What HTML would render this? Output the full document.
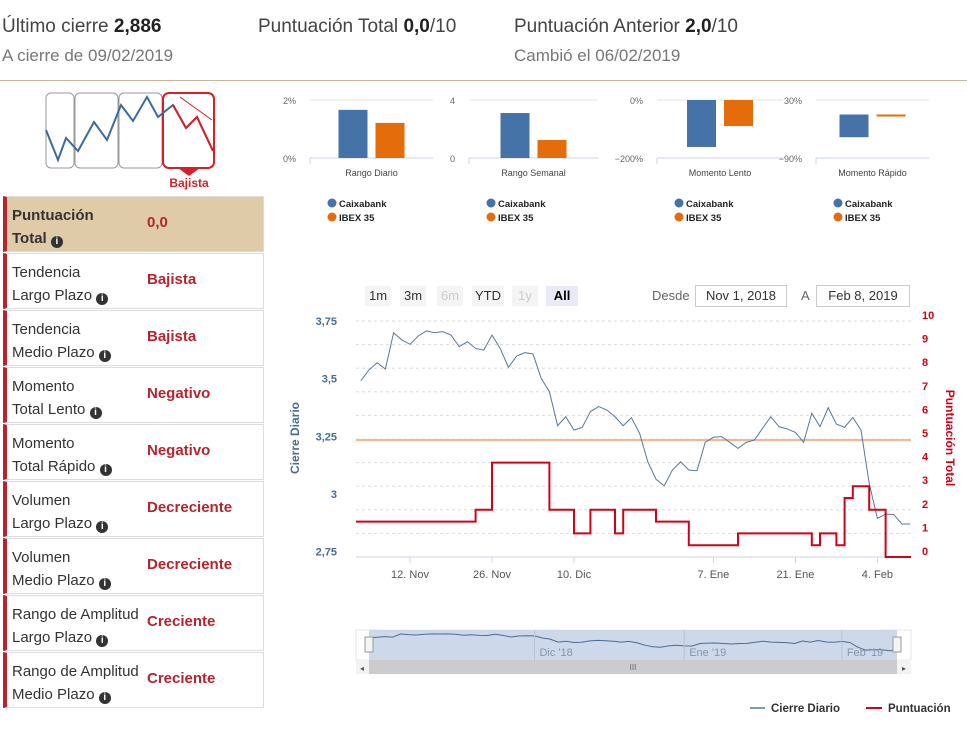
<!DOCTYPE html>
<html><head><meta charset="utf-8">
<style>
body{margin:0;width:967px;height:738px;background:#fff;font-family:"Liberation Sans",sans-serif;position:relative;overflow:hidden;color:#444}
.abs{position:absolute}
.h1{font-size:19px;color:#444;white-space:nowrap}
.h1 b{color:#222}
.h2{font-size:17px;color:#777;white-space:nowrap}
.row{position:absolute;left:3px;width:261px;height:56px;border:1px solid #ddd;border-left:4px solid #b5242f;box-sizing:border-box;background:#fff}
.row .l{position:absolute;left:5px;top:7px;font-size:15px;line-height:23px;color:#333}
.row .v{position:absolute;left:140px;top:17px;font-size:15px;font-weight:bold;color:#b5242f}
.ic{display:inline-block;width:12px;height:12px;border-radius:50%;background:#333;color:#fff;font-size:10px;line-height:12px;text-align:center;font-weight:bold;vertical-align:-1px}
.btn{position:absolute;top:286px;height:20px;font-size:13px;line-height:20px;text-align:center;background:#f4f4f4;color:#333}
</style></head><body>
<div class="abs h1" style="left:2px;top:16px">Último cierre <b>2,886</b></div>
<div class="abs h2" style="left:2px;top:46px">A cierre de 09/02/2019</div>
<div class="abs h1" style="left:258px;top:16px">Puntuación Total <b>0,0</b>/10</div>
<div class="abs h1" style="left:514px;top:16px">Puntuación Anterior <b>2,0</b>/10</div>
<div class="abs h2" style="left:514px;top:46px">Cambió el 06/02/2019</div>
<div class="abs" style="left:0;top:80px;width:967px;height:1px;background:#c9b99b"></div>

<svg class="abs" style="left:40px;top:88px" width="180" height="105">
<rect x="6" y="5" width="28" height="75" rx="5" fill="none" stroke="#999"/>
<rect x="35" y="5" width="43" height="75" rx="5" fill="none" stroke="#999"/>
<rect x="79" y="5" width="43" height="75" rx="5" fill="none" stroke="#999"/>
<rect x="123" y="5" width="51" height="75" rx="6" fill="none" stroke="#d61f26" stroke-width="2"/>
<polyline points="6,42 18,72 26,50 38,63 54,34 67,52 81,17 93,33 107,9 118,29 133,17 146,40 157,29 173,63" fill="none" stroke="#3d6a9e" stroke-width="2"/>
<polyline points="133,17 146,40 157,29 173,63" fill="none" stroke="#d61f26" stroke-width="2"/>
<line x1="140" y1="9" x2="172" y2="32" stroke="#d61f26"/>
<polygon points="138,80 160,80 149,88" fill="#d61f26"/>
<text x="149" y="99" text-anchor="middle" font-size="12" font-weight="bold" fill="#d61f26" font-family="Liberation Sans">Bajista</text>
</svg>

<div class="row" style="top:196px;background:#dfcba7"><div class="l" style="font-weight:bold">Puntuación<br>Total <span class="ic">i</span></div><div class="v" style="font-weight:bold">0,0</div></div>
<div class="row" style="top:253px"><div class="l">Tendencia<br>Largo Plazo <span class="ic">i</span></div><div class="v">Bajista</div></div>
<div class="row" style="top:310px"><div class="l">Tendencia<br>Medio Plazo <span class="ic">i</span></div><div class="v">Bajista</div></div>
<div class="row" style="top:367px"><div class="l">Momento<br>Total Lento <span class="ic">i</span></div><div class="v">Negativo</div></div>
<div class="row" style="top:424px"><div class="l">Momento<br>Total Rápido <span class="ic">i</span></div><div class="v">Negativo</div></div>
<div class="row" style="top:481px"><div class="l">Volumen<br>Largo Plazo <span class="ic">i</span></div><div class="v">Decreciente</div></div>
<div class="row" style="top:538px"><div class="l">Volumen<br>Medio Plazo <span class="ic">i</span></div><div class="v">Decreciente</div></div>
<div class="row" style="top:595px"><div class="l">Rango de Amplitud<br>Largo Plazo <span class="ic">i</span></div><div class="v">Creciente</div></div>
<div class="row" style="top:652px"><div class="l">Rango de Amplitud<br>Medio Plazo <span class="ic">i</span></div><div class="v">Creciente</div></div>

<svg id="mini" class="abs" style="left:0;top:0" width="967" height="240"></svg>

<div class="btn" style="left:365px;width:26px">1m</div>
<div class="btn" style="left:400px;width:26px">3m</div>
<div class="btn" style="left:437px;width:26px;color:#ccc">6m</div>
<div class="btn" style="left:472px;width:32px">YTD</div>
<div class="btn" style="left:512px;width:26px;color:#ccc">1y</div>
<div class="btn" style="left:546px;width:32px;background:#e6ebf5;font-weight:bold;color:#000">All</div>
<div class="abs" style="left:652px;top:288px;font-size:13px;color:#666">Desde</div>
<div class="abs" style="left:695px;top:285px;width:92px;height:22px;border:1px solid #ccc;box-sizing:border-box;font-size:13px;line-height:20px;text-align:center;color:#333">Nov 1, 2018</div>
<div class="abs" style="left:801px;top:288px;font-size:13px;color:#666">A</div>
<div class="abs" style="left:816px;top:285px;width:94px;height:22px;border:1px solid #ccc;box-sizing:border-box;font-size:13px;line-height:20px;text-align:center;color:#333">Feb 8, 2019</div>

<svg id="main" class="abs" style="left:0;top:0" width="967" height="738"></svg>

<script>
// ---- mini bar charts data ----
const miniTitles=["Rango Diario","Rango Semanal","Momento Lento","Momento Rápido"];
const miniCaixa=[1.66,3.1,-162,-47];
const miniIbex=[1.21,1.24,-90,-1];
const miniMax=[2,4,0,30];
const miniMin=[0,0,-200,-90];
const miniTopLabels=["2%","4","0%","30%"];
const miniBottomLabels=["0%","0","−200%","−90%"];
// ---- main chart data ----
const closes=[3.491,3.538,3.569,3.542,3.699,3.668,3.649,3.685,3.707,3.699,3.704,3.689,3.639,3.660,3.631,3.624,3.689,3.631,3.549,3.598,3.613,3.607,3.501,3.444,3.296,3.335,3.277,3.289,3.357,3.379,3.364,3.335,3.296,3.331,3.263,3.140,3.064,3.036,3.104,3.140,3.104,3.101,3.224,3.246,3.249,3.224,3.198,3.224,3.234,3.285,3.335,3.292,3.282,3.267,3.224,3.350,3.292,3.374,3.303,3.289,3.332,3.277,3.046,2.894,2.913,2.911,2.870,2.870];
const scores=[1.5,1.5,1.5,1.5,1.5,1.5,1.5,1.5,1.5,1.5,1.5,1.5,1.5,1.5,2,2,4,4,4,4,4,4,4,2,2,2,1,1,2,2,2,1,2,2,2,2,1.5,1.5,1.5,1.5,0.5,0.5,0.5,0.5,0.5,0.5,1,1,1,1,1,1,1,1,1,0.5,1,1,0.5,2.5,3,3,2,2,0,0,0,0];
const refLevel=3.234;
const xTickIdx=[6,16,26,43,53,63];
const xTickLabels=["12. Nov","26. Nov","10. Dic","7. Ene","21. Ene","4. Feb"];
const leftTicks=[3.75,3.5,3.25,3,2.75];
const leftTickLabels=["3,75","3,5","3,25","3","2,75"];
const rightTicks=[0,1,2,3,4,5,6,7,8,9,10];
const navTicks=["Dic '18","Ene '19","Feb '19"];

const NS="http://www.w3.org/2000/svg";
function mk(parent,tag,attrs,name,text){const e=document.createElementNS(NS,tag);for(const k in attrs)e.setAttribute(k,attrs[k]);


if(text!==undefined)e.textContent=text;parent.appendChild(e);return e;}

// mini charts
const mini=document.getElementById('mini');
const panelX=[310,469,657,816], panelW=[123,129,126,113];
const mTop=100,mBot=158;
for(let p=0;p<4;p++){
  const x0=panelX[p],w=panelW[p];
  const ys=v=>mTop+(miniMax[p]-v)/(miniMax[p]-miniMin[p])*(mBot-mTop);
  mk(mini,'line',{x1:x0,x2:x0+w,y1:mTop,y2:mTop,stroke:'#e4e4e4'},'mini-gridline');
  mk(mini,'line',{x1:x0,x2:x0+w,y1:mBot,y2:mBot,stroke:'#ccd6eb'},'mini-x-axis');
  mk(mini,'line',{x1:x0,x2:x0,y1:mBot,y2:mBot+6,stroke:'#ccd6eb'},'mini-tick');
  mk(mini,'text',{x:x0-14,y:mTop+4,'text-anchor':'end','font-size':9,fill:'#666','font-family':'Liberation Sans'},'mini-y-top-label',miniTopLabels[p]);
  mk(mini,'text',{x:x0-14,y:mBot+4,'text-anchor':'end','font-size':9,fill:'#666','font-family':'Liberation Sans'},'mini-y-bottom-label',miniBottomLabels[p]);
  const z=ys(Math.max(miniMin[p],Math.min(miniMax[p],0)));
  const bw=29, c=x0+w/2;
  const b1=ys(miniCaixa[p]), b2=ys(miniIbex[p]);
  mk(mini,'rect',{x:c-bw-4,y:Math.min(z,b1),width:bw,height:Math.max(1,Math.abs(z-b1)),fill:'#4572a7'},'bar-caixabank-'+p);
  mk(mini,'rect',{x:c+4,y:Math.min(z,b2),width:bw,height:Math.max(2,Math.abs(z-b2)),fill:'#e46c0a'},'bar-ibex-'+p);
  mk(mini,'text',{x:c,y:176,'text-anchor':'middle','font-size':9,fill:'#444','font-family':'Liberation Sans'},'mini-category-label',miniTitles[p]);
  const lx=x0+22;
  mk(mini,'circle',{cx:lx,cy:203,r:4.5,fill:'#4572a7'},'legend-caixabank-marker');
  mk(mini,'text',{x:lx+7,y:207,'font-size':9.5,'font-weight':'bold',fill:'#222','font-family':'Liberation Sans'},'legend-caixabank','Caixabank');
  mk(mini,'circle',{cx:lx,cy:217,r:4.5,fill:'#e46c0a'},'legend-ibex-marker');
  mk(mini,'text',{x:lx+7,y:221,'font-size':9.5,'font-weight':'bold',fill:'#222','font-family':'Liberation Sans'},'legend-ibex','IBEX 35');
}

// main chart
const svg=document.getElementById('main');
const PL=356,PR=911,PT=321,PB=557;
const xs=i=>410+(i-6)*8.2;
const yl=v=>PT+(3.75-v)*(PB-PT)/1.023;
const yr=v=>PB-v*(PB-PT)/10;
for(let k=0;k<=10;k++){const y=PT+k*(PB-PT)/10;
  mk(svg,'line',{x1:PL,x2:PR,y1:y,y2:y,stroke:'#ddd','stroke-dasharray':'3,3'},'gridline');}
mk(svg,'line',{x1:PL,x2:PR,y1:PB,y2:PB,stroke:'#ccd6eb'},'x-axis-line');
leftTicks.forEach((t,k)=>mk(svg,'text',{x:337,y:yl(t)+4,'text-anchor':'end','font-size':11,'font-weight':'bold',fill:'#4a6c93','font-family':'Liberation Sans'},'y-left-tick',leftTickLabels[k]));
rightTicks.forEach(t=>mk(svg,'text',{x:922,y:yr(t)-2,'font-size':11,'font-weight':'bold',fill:'#d0021b','font-family':'Liberation Sans'},'y-right-tick',String(t)));
xTickIdx.forEach((i,k)=>{mk(svg,'line',{x1:xs(i),x2:xs(i),y1:PB,y2:PB+6,stroke:'#ccd6eb'},'x-tick');
  mk(svg,'text',{x:xs(i),y:578,'text-anchor':'middle','font-size':11,fill:'#555','font-family':'Liberation Sans'},'x-tick-label',xTickLabels[k]);});
mk(svg,'text',{x:0,y:0,transform:'translate(299,438) rotate(-90)','text-anchor':'middle','font-size':12,'font-weight':'bold',fill:'#4a6c93','font-family':'Liberation Sans'},'y-left-title','Cierre Diario');
mk(svg,'text',{x:0,y:0,transform:'translate(946,438) rotate(90)','text-anchor':'middle','font-size':12,'font-weight':'bold',fill:'#d0021b','font-family':'Liberation Sans'},'y-right-title','Puntuación Total');
mk(svg,'line',{x1:PL,x2:PR,y1:yl(refLevel),y2:yl(refLevel),stroke:'#f0b98f','stroke-width':2},'reference-line');
mk(svg,'polyline',{points:closes.map((v,i)=>xs(i)+','+yl(v)).join(' '),fill:'none',stroke:'#5a7896','stroke-width':1},'series-cierre-diario');
let pts=[];scores.forEach((s,i)=>{const xa=i===0?PL:xs(i);const xb=i===scores.length-1?PR:xs(i+1);pts.push(xa+','+yr(s),xb+','+yr(s));});
mk(svg,'polyline',{points:pts.join(' '),fill:'none',stroke:'#d0021b','stroke-width':2},'series-puntuacion');

// navigator
mk(svg,'rect',{x:PL,y:630,width:PR-PL,height:30,fill:'#fff',stroke:'#e6e6e6'},'navigator');
mk(svg,'rect',{x:369,y:630,width:528,height:30,fill:'#cdd8ea'},'navigator-mask');
const nx=i=>369+i*(528/(closes.length-1));
const ny=v=>633+(3.75-v)*20;
mk(svg,'polyline',{points:closes.map((v,i)=>nx(i)+','+ny(v)).join(' '),fill:'none',stroke:'#4a6c93'},'navigator-series');
[[nx(21),navTicks[0]],[nx(40),navTicks[1]],[nx(60),navTicks[2]]].forEach(t=>{
 mk(svg,'line',{x1:t[0],x2:t[0],y1:630,y2:660,stroke:'#b8c3d6'},'navigator-tick');
 mk(svg,'text',{x:t[0]+5,y:656,'font-size':11,fill:'#8895aa','font-family':'Liberation Sans'},'navigator-label',t[1]);});
mk(svg,'rect',{x:365,y:637,width:8,height:15,fill:'#f4f4f4',stroke:'#999'},'navigator-handle-left');
mk(svg,'rect',{x:893,y:637,width:8,height:15,fill:'#f4f4f4',stroke:'#999'},'navigator-handle-right');
mk(svg,'rect',{x:356,y:660,width:555,height:14,fill:'#f2f2f2'},'scrollbar-track');
mk(svg,'rect',{x:369,y:660,width:528,height:14,fill:'#cccccc'},'scrollbar-thumb');
mk(svg,'text',{x:633,y:670,'text-anchor':'middle','font-size':8,fill:'#666','font-family':'Liberation Sans'},'scrollbar-grip','III');
mk(svg,'text',{x:362,y:671,'text-anchor':'middle','font-size':8,fill:'#555','font-family':'Liberation Sans'},'scrollbar-left-arrow','◂');
mk(svg,'text',{x:904,y:671,'text-anchor':'middle','font-size':8,fill:'#555','font-family':'Liberation Sans'},'scrollbar-right-arrow','▸');
// legend
mk(svg,'line',{x1:750,x2:765,y1:708,y2:708,stroke:'#5a7896','stroke-width':1.5},'legend-cierre-line');
mk(svg,'text',{x:771,y:712,'font-size':11.5,'font-weight':'bold',fill:'#333','font-family':'Liberation Sans'},'legend-cierre-diario','Cierre Diario');
mk(svg,'line',{x1:866,x2:882,y1:708,y2:708,stroke:'#d0021b','stroke-width':2},'legend-puntuacion-line');
mk(svg,'text',{x:888,y:712,'font-size':11.5,'font-weight':'bold',fill:'#333','font-family':'Liberation Sans'},'legend-puntuacion','Puntuación');
</script>
</body></html>
